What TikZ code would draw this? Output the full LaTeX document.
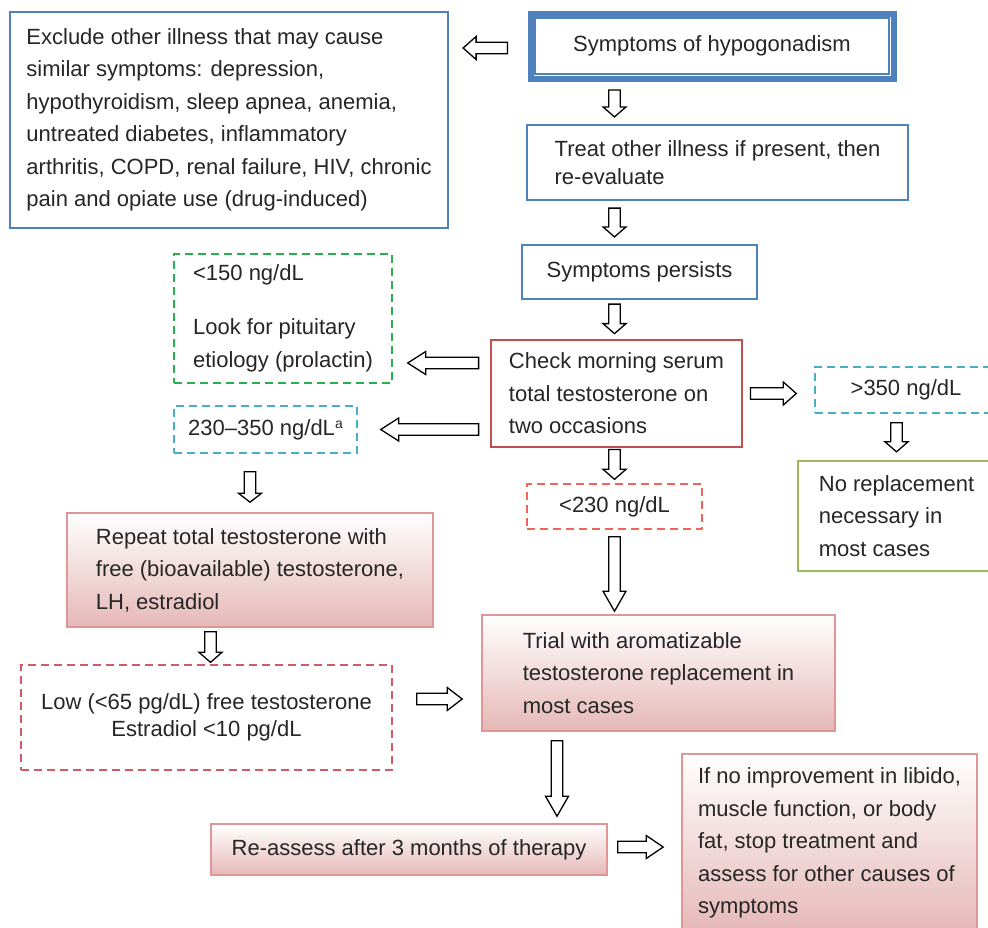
\documentclass[tikz,border=0pt]{standalone}
\usepackage{fontspec}
\setmainfont{Liberation Sans}
\usetikzlibrary{calc}

\definecolor{txtgray}{RGB}{38,38,38}
\definecolor{boxblue}{RGB}{79,129,189}
\definecolor{boxred}{RGB}{192,80,77}
\definecolor{dashgreen}{RGB}{40,176,80}
\definecolor{dashcyan}{RGB}{75,172,198}
\definecolor{dashorange}{RGB}{240,100,90}
\definecolor{dashrose}{RGB}{210,90,100}
\definecolor{boxgreen}{RGB}{155,187,89}
\definecolor{pinkline}{RGB}{222,150,150}
\definecolor{pinkbot}{RGB}{229,184,183}

\tikzset{
  every node/.style={font=\fontsize{11}{16.25}\selectfont, text=txtgray, inner sep=0pt},
  box/.style={draw, align=left, fill=white},
  bluebox/.style={box, draw=boxblue, line width=1.1pt},
  titlebox/.style={box, draw=boxblue, line width=3pt},
  redbox/.style={box, draw=boxred, line width=1.4pt},
  greenbox/.style={box, draw=boxgreen, line width=1.2pt},
  pinkbox/.style={box, draw=pinkline, line width=0.8pt, top color=white, bottom color=pinkbot},
  dashbox/.style={box, line width=0.7pt, dash pattern=on 4pt off 2.5pt},
  hollow/.style={draw=black, fill=white, line width=0.65pt,
    to path={let \p1=(\tikztostart), \p2=(\tikztotarget),
      \n1={atan2(\y2-\y1,\x2-\x1)}, \n2={veclen(\x2-\x1,\y2-\y1)-#1} in
      ($(\p1)+({\n1+90}:2.9pt)$)
      -- ($(\p1)+(\n1:\n2)+({\n1+90}:2.9pt)$)
      -- ($(\p1)+(\n1:\n2)+({\n1+90}:5.75pt)$)
      -- (\p2)
      -- ($(\p1)+(\n1:\n2)+({\n1-90}:5.75pt)$)
      -- ($(\p1)+(\n1:\n2)+({\n1-90}:2.9pt)$)
      -- ($(\p1)+({\n1-90}:2.9pt)$) -- cycle}},
  hollow/.default=5pt
}
\newcommand\supa{\raisebox{3.2pt}{\fontsize{7}{7}\selectfont a}}

\begin{document}
\begin{tikzpicture}[x=0.5pt,y=-0.5pt]
  \useasboundingbox (0,0) rectangle (988,927);

  \node[titlebox, minimum width=181.5pt, minimum height=32.5pt] (sym) at (712,46) {Symptoms of hypogonadism};
  \draw[boxblue, line width=0.8pt] ($(sym.north west)+(3.7pt,-3.7pt)$) rectangle ($(sym.south east)+(-3.7pt,3.7pt)$);

  \node[bluebox, minimum width=219pt, minimum height=108pt] (excl) at (229,120)
    {Exclude other illness that may cause\\ similar symptoms: depression,\\ hypothyroidism, sleep apnea, anemia,\\ untreated diabetes, inflammatory\\ arthritis, COPD, renal failure, HIV, chronic\\ pain and opiate use (drug-induced)};
  \node[bluebox, minimum width=190.5pt, minimum height=37.5pt, font=\fontsize{11}{14}\selectfont] (treat) at (717.5,162.5)
    {Treat other illness if present, then\\ re-evaluate};
  \node[bluebox, minimum width=117.5pt, minimum height=27pt] (pers) at (639.5,272) {Symptoms persists};
  \node[redbox, minimum width=125.5pt, minimum height=53.5pt] (check) at (616.5,393.5)
    {Check morning serum\\ total testosterone on\\ two occasions};

  \node[dashbox, draw=dashgreen, minimum width=109pt, minimum height=64.5pt] (pit) at (283,318.5)
    {<150 ng/dL\\[10.75pt] Look for pituitary\\ etiology (prolactin)};
  \node[dashbox, draw=dashcyan, minimum width=91.5pt, minimum height=23.5pt] (mid) at (265.5,429.5)
    {230–350 ng/dL\supa};
  \node[dashbox, draw=dashcyan, minimum width=91pt, minimum height=23pt] (high) at (906,390) {>350 ng/dL};
  \node[greenbox, minimum width=98.5pt, minimum height=55pt] (norep) at (896.5,516)
    {No replacement\\ necessary in\\ most cases};
  \node[dashbox, draw=dashorange, minimum width=87.5pt, minimum height=22.5pt] (low230) at (614.5,506.5) {<230 ng/dL};

  \node[pinkbox, minimum width=183pt, minimum height=57pt] (repeat) at (250,570)
    {Repeat total testosterone with\\ free (bioavailable) testosterone,\\ LH, estradiol};
  \node[dashbox, draw=dashrose, align=center, minimum width=185.5pt, minimum height=52.5pt, font=\fontsize{11}{13.5}\selectfont] (lowfree) at (206.5,717.5)
    {Low (<65 pg/dL) free testosterone\\ Estradiol <10 pg/dL};
  \node[pinkbox, minimum width=176.5pt, minimum height=58pt] (trial) at (658.5,673)
    {Trial with aromatizable\\ testosterone replacement in\\ most cases};
  \node[pinkbox, minimum width=198pt, minimum height=25.5pt] (reass) at (409,849.5) {Re-assess after 3 months of therapy};
  \node[pinkbox, minimum width=147.5pt, minimum height=89pt] (ifno) at (829.5,843)
    {If no improvement in libido,\\ muscle function, or body\\ fat, stop treatment and\\ assess for other causes of\\ symptoms};

  \draw[hollow=6.5pt] ($(sym.west)+(-10pt,-1pt)$) to ($(sym.west -| excl.east)+(7pt,-1pt)$);
  \draw[hollow] ($(sym.south -| low230.north)+(0pt,-4.25pt)$) to ($(treat.north -| low230.north)+(0pt,3.5pt)$);
  \draw[hollow] ($(treat.south -| low230.north)+(0pt,-3.5pt)$) to ($(pers.north -| low230.north)+(0pt,3.5pt)$);
  \draw[hollow] ($(pers.south -| low230.north)+(0pt,-2pt)$) to ($(check.north -| low230.north)+(0pt,2.5pt)$);
  \draw[hollow=9pt] ($(check.west)+(-5.5pt,15.25pt)$) to ($(check.west -| pit.east)+(7.5pt,15.25pt)$);
  \draw[hollow=9pt] ($(mid.east -| check.west)+(-5.5pt,0pt)$) to ($(mid.east)+(11.5pt,0pt)$);
  \draw[hollow=6.5pt] ($(check.east)+(3.5pt,0pt)$) to ($(check.east -| high.west)+(-9pt,0pt)$);
  \draw[hollow] ($(high.south -| norep.north)+(0pt,-4.5pt)$) to ($(norep.north)+(0pt,4pt)$);
  \draw[hollow] ($(check.south -| low230.north)+(0pt,-0.5pt)$) to ($(low230.north)+(0pt,2pt)$);
  \draw[hollow=10pt] ($(low230.south)+(0pt,-3.5pt)$) to ($(trial.north -| low230.south)+(0pt,1.5pt)$);
  \draw[hollow=4.5pt] ($(mid.south -| repeat.north)+(0pt,-9pt)$) to ($(repeat.north)+(0pt,5pt)$);
  \draw[hollow] ($(repeat.south -| lowfree.north)+(2pt,-2pt)$) to ($(lowfree.north)+(2pt,1pt)$);
  \draw[hollow=7.5pt] ($(lowfree.east)+(12pt,9.25pt)$) to ($(lowfree.east -| trial.west)+(-9.5pt,9.25pt)$);
  \draw[hollow=10pt] ($(trial.south)+(-50.75pt,-4.5pt)$) to ($(trial.south |- reass.north)+(-50.75pt,3.5pt)$);
  \draw[hollow=8.5pt] ($(reass.east)+(5pt,1.25pt)$) to ($(reass.east -| ifno.west)+(-9pt,1.25pt)$);
\end{tikzpicture}
\end{document}
